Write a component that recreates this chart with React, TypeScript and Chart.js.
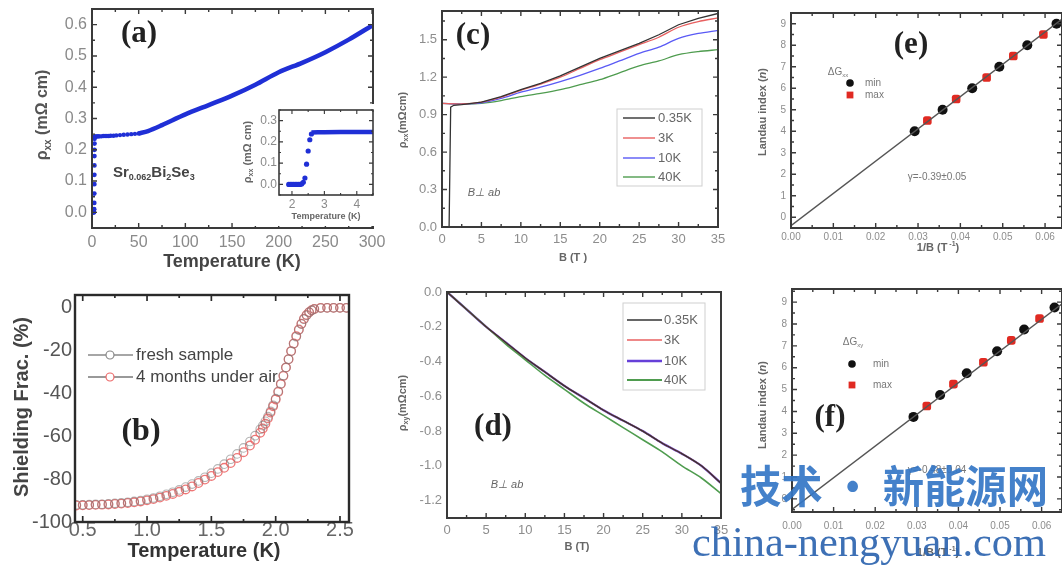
import React, { useEffect, useRef } from 'react';
import { Chart, registerables } from 'chart.js';
Chart.register(...registerables);

const SANS = '"Liberation Sans", Arial, Helvetica, sans-serif';
const SERIF = '"Liberation Serif", "Times New Roman", serif';

// ---------- (a) resistivity vs temperature ----------
const aTransT = [1.9, 2.1, 2.3, 2.4, 2.45, 2.5, 2.52, 2.55, 2.58, 2.6, 2.65, 2.7, 2.8];
const aTransRho = [0.0, 0.0, 0.01, 0.03, 0.06, 0.09, 0.12, 0.15, 0.18, 0.2, 0.22, 0.235, 0.242];
const aLowT = [3, 4, 5, 6, 7, 8, 10, 12, 14, 16, 18, 20, 23, 26, 30, 34, 38, 42, 46, 50];
const aLowRho = [0.242, 0.242, 0.243, 0.243, 0.243, 0.243, 0.243, 0.244, 0.244, 0.244, 0.244, 0.245, 0.245, 0.246, 0.247, 0.248, 0.249, 0.25, 0.251, 0.252];
const aWarmT = [50, 60, 75, 100, 125, 150, 175, 200, 225, 250, 275, 300];
const aWarmRho = [0.252, 0.26, 0.279, 0.313, 0.343, 0.373, 0.408, 0.448, 0.478, 0.512, 0.552, 0.597];
const aXTicks = [0, 50, 100, 150, 200, 250, 300];
const aYTicks = [0, 0.1, 0.2, 0.3, 0.4, 0.5, 0.6];

// inset of (a)
const insT = [1.9, 1.95, 2.0, 2.05, 2.1, 2.15, 2.2, 2.25, 2.3, 2.35, 2.4, 2.45, 2.5, 2.55, 2.6];
const insRho = [0.0, 0.0, 0.0, 0.0, 0.0, 0.0, 0.0, 0.0, 0.002, 0.01, 0.03, 0.095, 0.157, 0.21, 0.237];
const insFlatT = [2.6, 2.8, 3.0, 3.5, 4.0, 4.5];
const insFlatRho = [0.244, 0.245, 0.245, 0.246, 0.246, 0.246];
const insXTicks = [2, 3, 4];
const insYTicks = [0, 0.1, 0.2, 0.3];

// ---------- (b) shielding fraction ----------
const bT = [0.45, 0.5, 0.55, 0.6, 0.65, 0.7, 0.75, 0.8, 0.85, 0.9, 0.95, 1.0, 1.05, 1.1, 1.15, 1.2, 1.25, 1.3, 1.35, 1.4, 1.45, 1.5, 1.55, 1.6, 1.65, 1.7, 1.75, 1.8, 1.84, 1.88, 1.9, 1.92, 1.94, 1.96, 1.98, 2.0, 2.02, 2.04, 2.06, 2.08, 2.1, 2.12, 2.14, 2.16, 2.18, 2.2, 2.22, 2.24, 2.26, 2.28, 2.3, 2.35, 2.4, 2.45, 2.5, 2.55];
const bFresh = [-92, -92, -91.9, -91.8, -91.7, -91.5, -91.3, -91.1, -90.8, -90.4, -90, -89.4, -88.8, -88, -87.1, -86.1, -85, -83.7, -82.3, -80.8, -79.1, -77.2, -75.2, -73, -70.7, -68.2, -65.4, -62.4, -59.7, -56.7, -55, -53, -50.8, -48.3, -45.5, -42.4, -39, -35.4, -31.6, -27.8, -24, -20.3, -16.8, -13.5, -10.4, -7.6, -5.3, -3.5, -2.1, -1.2, -0.6, -0.1, 0, 0, 0, 0];
const bAged = [-92.3, -92.2, -92.1, -92, -91.9, -91.8, -91.6, -91.4, -91.1, -90.8, -90.4, -89.9, -89.3, -88.6, -87.8, -86.9, -85.9, -84.8, -83.4, -81.8, -80.2, -78.5, -76.7, -74.7, -72.5, -70.1, -67.4, -64.3, -61.6, -58.3, -56.3, -54.1, -51.6, -48.9, -46, -42.8, -39.3, -35.6, -31.8, -27.9, -24, -20.2, -16.6, -13.2, -10.1, -7.4, -5.1, -3.3, -2, -1.1, -0.5, 0, 0, 0, 0, 0];
const bXTicks = [0.5, 1.0, 1.5, 2.0, 2.5];
const bYTicks = [0, -20, -40, -60, -80, -100];

// ---------- (c) rho_xx vs B ----------
const cB035 = [0, 0.9, 1.1, 1.5, 2.5, 5, 7.5, 10, 12.5, 15, 17.5, 20, 22.5, 25, 27.5, 30, 32.5, 35];
const c035 = [0, 0, 0.96, 0.975, 0.98, 1.0, 1.045, 1.1, 1.15, 1.21, 1.28, 1.35, 1.41, 1.47, 1.54, 1.62, 1.67, 1.71];
const cB = [0, 2.5, 5, 7.5, 10, 12.5, 15, 17.5, 20, 22.5, 25, 27.5, 30, 32.5, 35];
const c3 = [0.99, 0.985, 1.0, 1.04, 1.095, 1.145, 1.2, 1.27, 1.34, 1.4, 1.46, 1.52, 1.6, 1.645, 1.675];
const c10 = [0.99, 0.985, 0.995, 1.03, 1.08, 1.12, 1.165, 1.215, 1.27, 1.33, 1.39, 1.44, 1.51, 1.55, 1.575];
const c40 = [0.99, 0.985, 0.99, 1.012, 1.045, 1.07, 1.1, 1.14, 1.18, 1.235, 1.29, 1.33, 1.38, 1.405, 1.42];
const cXTicks = [0, 5, 10, 15, 20, 25, 30, 35];
const cYTicks = [0, 0.3, 0.6, 0.9, 1.2, 1.5];

// ---------- (d) rho_xy vs B ----------
const dB = [0, 2.5, 5, 7.5, 10, 12.5, 15, 17.5, 20, 22.5, 25, 27.5, 30, 32.5, 35];
const d035 = [0, -0.1, -0.2, -0.29, -0.38, -0.46, -0.54, -0.61, -0.68, -0.74, -0.8, -0.87, -0.93, -1.0, -1.1];
const d3 = [0, -0.1, -0.2, -0.29, -0.38, -0.46, -0.54, -0.61, -0.68, -0.74, -0.8, -0.87, -0.93, -1.0, -1.1];
const d10 = [0, -0.1, -0.2, -0.29, -0.38, -0.46, -0.54, -0.61, -0.68, -0.74, -0.8, -0.87, -0.93, -1.0, -1.1];
const d40 = [0, -0.1, -0.2, -0.3, -0.39, -0.48, -0.56, -0.64, -0.71, -0.78, -0.85, -0.92, -1.0, -1.07, -1.16];
const dXTicks = [0, 5, 10, 15, 20, 25, 30, 35];
const dYTicks = [0, -0.2, -0.4, -0.6, -0.8, -1.0, -1.2];

// ---------- (e) Landau fan, dGxx ----------
const eMinX = [0.0292, 0.0358, 0.0428, 0.0492, 0.0558, 0.0627];
const eMinN = [4, 5, 6, 7, 8, 9];
const eMaxX = [0.0322, 0.039, 0.0462, 0.0525, 0.0596];
const eMaxN = [4.5, 5.5, 6.5, 7.5, 8.5];
const eFitX = [0, 0.066];
const eFitN = [-0.39, 9.51];

// ---------- (f) Landau fan, dGxy ----------
const fMinX = [0.0292, 0.0356, 0.042, 0.0493, 0.0558, 0.0631];
const fMinN = [3.75, 4.75, 5.75, 6.75, 7.75, 8.75];
const fMaxX = [0.0324, 0.0388, 0.046, 0.0527, 0.0595];
const fMaxN = [4.25, 5.25, 6.25, 7.25, 8.25];
const fFitX = [0, 0.066];
const fFitN = [-0.48, 9.08];
const efXTicks = [0, 0.01, 0.02, 0.03, 0.04, 0.05, 0.06];
const efYTicks = [0, 1, 2, 3, 4, 5, 6, 7, 8, 9];

// ---------- helpers ----------
const zip = (xs: number[], ys: number[]) => xs.map((x, i) => ({ x, y: ys[i] }));

type Seg = { t: string; sub?: boolean; sup?: boolean; italic?: boolean };
type Note = { x: number; y: number; text: string | Seg[]; size: number; weight?: string; family?: string; color?: string; align?: 'left' | 'center' | 'right'; rot?: boolean; italic?: boolean };
type Mk = { x: number; r: number; shape: 'circle' | 'rect'; fill: string; stroke: string; lw: number };
type LegItem = { y: number; x1: number; x2: number; color: string; lw: number; text: string | Seg[]; tx: number; size: number; tcolor?: string; mk?: Mk };
type Leg = { box?: { l: number; t: number; r: number; b: number; color: string }; items: LegItem[] };
type Axis = { min: number; max: number; ticks: number[]; minor: number; fmt: (v: number) => string; size: number; color: string; pad: number };
type Panel = {
  cx: number; cy: number; cw: number; ch: number;
  l: number; t: number; r: number; b: number;
  x: Axis; y: Axis;
  frame: { lw: number; color: string; major: number; minor: number };
  bg?: string;
  datasets: any[];
  notes: Note[];
  legend?: Leg;
};

function drawNote(ctx: CanvasRenderingContext2D, n: Note, ox: number, oy: number) {
  const segs: Seg[] = typeof n.text === 'string' ? [{ t: n.text }] : n.text;
  const fam = n.family || SANS;
  const wt = n.weight || 'normal';
  const fontOf = (s: Seg) => `${s.italic || n.italic ? 'italic ' : ''}${wt} ${s.sub || s.sup ? Math.round(n.size * 0.62) : n.size}px ${fam}`;
  ctx.save();
  ctx.translate(n.x - ox, n.y - oy);
  if (n.rot) ctx.rotate(-Math.PI / 2);
  ctx.fillStyle = n.color || '#333';
  ctx.textBaseline = 'middle';
  ctx.textAlign = 'left';
  let total = 0;
  const ws = segs.map((s) => { ctx.font = fontOf(s); const w = ctx.measureText(s.t).width; total += w; return w; });
  let x = n.align === 'left' ? 0 : n.align === 'right' ? -total : -total / 2;
  segs.forEach((s, i) => {
    ctx.font = fontOf(s);
    const dy = s.sub ? n.size * 0.32 : s.sup ? -n.size * 0.36 : 0;
    ctx.fillText(s.t, x, dy);
    x += ws[i];
  });
  ctx.restore();
}

function drawMarker(ctx: CanvasRenderingContext2D, m: Mk, x: number, y: number) {
  ctx.save();
  ctx.fillStyle = m.fill; ctx.strokeStyle = m.stroke; ctx.lineWidth = m.lw;
  ctx.beginPath();
  if (m.shape === 'circle') ctx.arc(x, y, m.r, 0, Math.PI * 2);
  else ctx.rect(x - m.r, y - m.r, m.r * 2, m.r * 2);
  if (m.fill !== 'none') ctx.fill();
  if (m.lw > 0) ctx.stroke();
  ctx.restore();
}

function makeDeco(p: Panel) {
  return {
    id: 'deco',
    beforeDraw(chart: any) {
      if (!p.bg) return;
      const ctx = chart.ctx;
      ctx.save(); ctx.fillStyle = p.bg; ctx.fillRect(0, 0, chart.width, chart.height); ctx.restore();
    },
    afterDatasetsDraw(chart: any) {
      const ctx: CanvasRenderingContext2D = chart.ctx;
      const { left, right, top, bottom } = chart.chartArea;
      const xs = chart.scales.x, ys = chart.scales.y;
      ctx.save();
      ctx.strokeStyle = p.frame.color;
      ctx.lineWidth = p.frame.lw;
      ctx.strokeRect(left, top, right - left, bottom - top);
      ctx.lineWidth = Math.max(1, p.frame.lw * 0.7);
      const doAxis = (ax: Axis, horiz: boolean) => {
        const step = ax.ticks[1] - ax.ticks[0];
        const ms = step / (ax.minor + 1);
        const lo = Math.min(ax.min, ax.max), hi = Math.max(ax.min, ax.max);
        const i0 = Math.ceil((lo - ax.ticks[0]) / ms - 1e-6);
        const i1 = Math.floor((hi - ax.ticks[0]) / ms + 1e-6);
        for (let i = i0; i <= i1; i++) {
          const v = ax.ticks[0] + i * ms;
          const major = ((i % (ax.minor + 1)) + (ax.minor + 1)) % (ax.minor + 1) === 0;
          const len = major ? p.frame.major : p.frame.minor;
          ctx.beginPath();
          if (horiz) {
            const px = xs.getPixelForValue(v);
            ctx.moveTo(px, bottom); ctx.lineTo(px, bottom - len);
            ctx.moveTo(px, top); ctx.lineTo(px, top + len);
          } else {
            const py = ys.getPixelForValue(v);
            ctx.moveTo(left, py); ctx.lineTo(left + len, py);
            ctx.moveTo(right, py); ctx.lineTo(right - len, py);
          }
          ctx.stroke();
        }
      };
      doAxis(p.x, true);
      doAxis(p.y, false);
      ctx.restore();
    },
    afterDraw(chart: any) {
      const ctx: CanvasRenderingContext2D = chart.ctx;
      const ox = p.cx, oy = p.cy;
      if (p.legend) {
        const L = p.legend;
        if (L.box) {
          ctx.save(); ctx.strokeStyle = L.box.color; ctx.lineWidth = 1;
          ctx.strokeRect(L.box.l - ox, L.box.t - oy, L.box.r - L.box.l, L.box.b - L.box.t);
          ctx.restore();
        }
        L.items.forEach((it) => {
          if (it.lw > 0) {
            ctx.save(); ctx.strokeStyle = it.color; ctx.lineWidth = it.lw;
            ctx.beginPath(); ctx.moveTo(it.x1 - ox, it.y - oy); ctx.lineTo(it.x2 - ox, it.y - oy); ctx.stroke();
            ctx.restore();
          }
          if (it.mk) drawMarker(ctx, it.mk, it.mk.x - ox, it.y - oy);
          if (it.text) drawNote(ctx, { x: it.tx, y: it.y, text: it.text, size: it.size, color: it.tcolor || '#444', align: 'left' }, ox, oy);
        });
      }
      p.notes.forEach((n) => drawNote(ctx, n, ox, oy));
    },
  };
}

function scaleOpts(ax: Axis, horiz: boolean, fixed: number) {
  return {
    type: 'linear',
    min: ax.min,
    max: ax.max,
    grid: { display: false, drawTicks: false },
    border: { display: false },
    ticks: {
      autoSkip: false,
      maxRotation: 0,
      padding: ax.pad,
      color: ax.color,
      font: { family: SANS, size: ax.size },
      callback: (v: any) => ax.fmt(Number(v)),
    },
    afterBuildTicks: (s: any) => { s.ticks = ax.ticks.map((v) => ({ value: v })); },
    afterFit: (s: any) => {
      if (horiz) { s.height = fixed; s.paddingLeft = 0; s.paddingRight = 0; }
      else { s.width = fixed; s.paddingTop = 0; s.paddingBottom = 0; }
    },
  };
}

function PanelChart({ p }: { p: Panel }) {
  const ref = useRef<HTMLCanvasElement | null>(null);
  useEffect(() => {
    if (!ref.current) return;
    const chart = new Chart(ref.current, {
      type: 'scatter',
      data: { datasets: p.datasets },
      options: {
        animation: false,
        responsive: false,
        events: [],
        layout: { autoPadding: false, padding: { left: 0, top: p.t - p.cy, right: p.cx + p.cw - p.r, bottom: 0 } },
        plugins: { legend: { display: false }, tooltip: { enabled: false } },
        scales: {
          x: scaleOpts(p.x, true, p.cy + p.ch - p.b) as any,
          y: scaleOpts(p.y, false, p.l - p.cx) as any,
        },
      } as any,
      plugins: [makeDeco(p) as any],
    });
    return () => chart.destroy();
  }, [p]);
  return <canvas ref={ref} width={p.cw} height={p.ch} style={{ position: 'absolute', left: p.cx, top: p.cy, width: p.cw, height: p.ch }} />;
}

// ---------- panel definitions ----------
const f1 = (v: number) => v.toFixed(1);
const f0 = (v: number) => String(Math.round(v));
const f2 = (v: number) => v.toFixed(2);
const lineDs = (xs: number[], ys: number[], color: string, w: number, extra: any = {}) => ({
  data: zip(xs, ys), showLine: true, borderColor: color, backgroundColor: color, borderWidth: w, pointRadius: 0, tension: 0.3, ...extra,
});

const panelA: Panel = {
  cx: 0, cy: 0, cw: 385, ch: 275, l: 92, t: 9, r: 373, b: 228,
  x: { min: 0, max: 301, ticks: aXTicks, minor: 1, fmt: f0, size: 16, color: '#8a8a8a', pad: 5 },
  y: { min: -0.05, max: 0.65, ticks: aYTicks, minor: 1, fmt: f1, size: 16, color: '#8a8a8a', pad: 5 },
  frame: { lw: 2, color: '#3a3a3a', major: 5, minor: 3 },
  datasets: [
    { data: zip(aTransT, aTransRho), pointRadius: 2.4, pointBackgroundColor: '#1f2fd6', pointBorderWidth: 0, showLine: false },
    { data: zip(aLowT, aLowRho), pointRadius: 2.2, pointBackgroundColor: '#1f2fd6', pointBorderWidth: 0, showLine: false },
    lineDs(aWarmT, aWarmRho, '#1f2fd6', 4.5),
  ],
  notes: [
    { x: 139, y: 34, text: '(a)', size: 31, weight: 'bold', family: SERIF, color: '#222' },
    { x: 43, y: 115, text: [{ t: 'ρ' }, { t: 'xx', sub: true }, { t: ' (mΩ cm)' }], size: 16, weight: 'bold', color: '#555', rot: true },
    { x: 232, y: 262, text: 'Temperature (K)', size: 18, weight: 'bold', color: '#444' },
    { x: 113, y: 173, text: [{ t: 'Sr' }, { t: '0.062', sub: true }, { t: 'Bi' }, { t: '2', sub: true }, { t: 'Se' }, { t: '3', sub: true }], size: 15, weight: 'bold', color: '#444', align: 'left' },
  ],
};

const panelInset: Panel = {
  cx: 238, cy: 104, cw: 140, ch: 122, l: 279, t: 110, r: 373, b: 195,
  x: { min: 1.6, max: 4.5, ticks: insXTicks, minor: 1, fmt: f0, size: 12, color: '#8a8a8a', pad: 2 },
  y: { min: -0.05, max: 0.35, ticks: insYTicks, minor: 1, fmt: f1, size: 12, color: '#8a8a8a', pad: 2 },
  frame: { lw: 1.6, color: '#3a3a3a', major: 4, minor: 2 },
  bg: '#ffffff',
  datasets: [
    { data: zip(insT, insRho), pointRadius: 2.6, pointBackgroundColor: '#1f2fd6', pointBorderWidth: 0, showLine: false },
    lineDs(insFlatT, insFlatRho, '#1f2fd6', 4.5, { tension: 0 }),
  ],
  notes: [
    { x: 248, y: 152, text: [{ t: 'ρ' }, { t: 'xx', sub: true }, { t: ' (mΩ cm)' }], size: 11, weight: 'bold', color: '#666', rot: true },
    { x: 326, y: 217, text: 'Temperature (K)', size: 9, weight: 'bold', color: '#666' },
  ],
};

const panelB: Panel = {
  cx: 0, cy: 285, cw: 365, ch: 281, l: 75, t: 295, r: 349, b: 522,
  x: { min: 0.44, max: 2.57, ticks: bXTicks, minor: 1, fmt: f1, size: 20, color: '#666', pad: -4 },
  y: { min: -100, max: 6, ticks: bYTicks, minor: 1, fmt: f0, size: 20, color: '#555', pad: 3 },
  frame: { lw: 2.4, color: '#2a2a2a', major: 6, minor: 3 },
  datasets: [
    { data: zip(bT, bFresh), pointRadius: 4.3, pointBackgroundColor: 'rgba(255,255,255,0)', pointBorderColor: 'rgba(120,120,120,0.55)', pointBorderWidth: 1.1, showLine: false },
    { data: zip(bT, bAged), pointRadius: 4.3, pointBackgroundColor: 'rgba(255,255,255,0)', pointBorderColor: 'rgba(236,104,104,0.9)', pointBorderWidth: 1.3, showLine: false },
  ],
  notes: [
    { x: 141, y: 432, text: '(b)', size: 32, weight: 'bold', family: SERIF, color: '#222' },
    { x: 22, y: 407, text: 'Shielding Frac. (%)', size: 20, weight: 'bold', color: '#444', rot: true },
    { x: 204, y: 551, text: 'Temperature (K)', size: 20, weight: 'bold', color: '#333' },
  ],
  legend: {
    items: [
      { y: 355, x1: 88, x2: 133, color: '#888', lw: 1.3, text: 'fresh sample', tx: 136, size: 17, mk: { x: 110, r: 4, shape: 'circle', fill: '#fff', stroke: '#888', lw: 1.2 } },
      { y: 377, x1: 88, x2: 133, color: '#777', lw: 1.3, text: '4 months under air', tx: 136, size: 17, mk: { x: 110, r: 4, shape: 'circle', fill: '#fff', stroke: '#ec6868', lw: 1.2 } },
    ],
  },
};

const panelC: Panel = {
  cx: 385, cy: 0, cw: 345, ch: 270, l: 442, t: 11, r: 718, b: 227,
  x: { min: 0, max: 35, ticks: cXTicks, minor: 1, fmt: f0, size: 13, color: '#8d8d8d', pad: 5 },
  y: { min: 0, max: 1.73, ticks: cYTicks, minor: 1, fmt: f1, size: 13, color: '#8d8d8d', pad: 5 },
  frame: { lw: 2, color: '#3a3a3a', major: 5, minor: 3 },
  datasets: [
    lineDs(cB035, c035, '#333333', 1.3, { tension: 0 }),
    lineDs(cB, c3, '#e86060', 1.3),
    lineDs(cB, c10, '#5a5af5', 1.3),
    lineDs(cB, c40, '#4f9c4f', 1.3),
  ],
  notes: [
    { x: 473, y: 36, text: '(c)', size: 31, weight: 'bold', family: SERIF, color: '#222' },
    { x: 403, y: 120, text: [{ t: 'ρ' }, { t: 'xx', sub: true }, { t: '(mΩcm)' }], size: 11, weight: 'bold', color: '#666', rot: true },
    { x: 573, y: 258, text: 'B (T )', size: 11, weight: 'bold', color: '#666' },
    { x: 484, y: 193, text: 'B⊥ ab', size: 11, italic: true, color: '#666' },
  ],
  legend: {
    box: { l: 617, t: 109, r: 702, b: 186, color: '#cfcfcf' },
    items: [
      { y: 118, x1: 623, x2: 655, color: '#333', lw: 1.4, text: '0.35K', tx: 658, size: 13, tcolor: '#666' },
      { y: 138, x1: 623, x2: 655, color: '#e86060', lw: 1.4, text: '3K', tx: 658, size: 13, tcolor: '#666' },
      { y: 158, x1: 623, x2: 655, color: '#5a5af5', lw: 1.4, text: '10K', tx: 658, size: 13, tcolor: '#666' },
      { y: 177, x1: 623, x2: 655, color: '#4f9c4f', lw: 1.4, text: '40K', tx: 658, size: 13, tcolor: '#666' },
    ],
  },
};

const panelD: Panel = {
  cx: 385, cy: 280, cw: 350, ch: 286, l: 447, t: 292, r: 721, b: 518,
  x: { min: 0, max: 35, ticks: dXTicks, minor: 1, fmt: f0, size: 13, color: '#8d8d8d', pad: 5 },
  y: { min: -1.3, max: 0, ticks: dYTicks, minor: 1, fmt: f1, size: 13, color: '#8d8d8d', pad: 5 },
  frame: { lw: 2, color: '#3a3a3a', major: 5, minor: 3 },
  datasets: [
    lineDs(dB, d035, '#333333', 1.3),
    lineDs(dB, d3, '#e86060', 1.3),
    lineDs(dB, d40, '#4f9c4f', 1.6),
    lineDs(dB, d10, '#6640d8', 2.2),
  ],
  notes: [
    { x: 493, y: 427, text: '(d)', size: 31, weight: 'bold', family: SERIF, color: '#222' },
    { x: 403, y: 403, text: [{ t: 'ρ' }, { t: 'xy', sub: true }, { t: '(mΩcm)' }], size: 11, weight: 'bold', color: '#666', rot: true },
    { x: 577, y: 547, text: 'B (T)', size: 11, weight: 'bold', color: '#666' },
    { x: 507, y: 485, text: 'B⊥ ab', size: 11, italic: true, color: '#666' },
  ],
  legend: {
    box: { l: 623, t: 303, r: 705, b: 390, color: '#cfcfcf' },
    items: [
      { y: 320, x1: 627, x2: 662, color: '#333', lw: 1.6, text: '0.35K', tx: 664, size: 13, tcolor: '#666' },
      { y: 340, x1: 627, x2: 662, color: '#e86060', lw: 1.6, text: '3K', tx: 664, size: 13, tcolor: '#666' },
      { y: 361, x1: 627, x2: 662, color: '#6640d8', lw: 2.4, text: '10K', tx: 664, size: 13, tcolor: '#666' },
      { y: 380, x1: 627, x2: 662, color: '#4f9c4f', lw: 1.8, text: '40K', tx: 664, size: 13, tcolor: '#666' },
    ],
  },
};

const fanDs = (minX: number[], minN: number[], maxX: number[], maxN: number[], fitX: number[], fitN: number[]) => [
  lineDs(fitX, fitN, '#555', 1.4, { tension: 0, clip: 0 }),
  { data: zip(minX, minN), pointRadius: 5, pointStyle: 'circle', pointBackgroundColor: '#111', pointBorderColor: '#111', pointBorderWidth: 0, showLine: false },
  { data: zip(maxX, maxN), pointRadius: 5, pointStyle: 'rectRounded', pointBackgroundColor: '#e02a22', pointBorderColor: '#e02a22', pointBorderWidth: 0, showLine: false },
];

const panelE: Panel = {
  cx: 730, cy: 0, cw: 332, ch: 270, l: 791, t: 13, r: 1062, b: 228,
  x: { min: 0, max: 0.064, ticks: efXTicks, minor: 1, fmt: f2, size: 10, color: '#8d8d8d', pad: 3 },
  y: { min: -0.5, max: 9.5, ticks: efYTicks, minor: 1, fmt: f0, size: 10, color: '#8d8d8d', pad: 5 },
  frame: { lw: 2, color: '#3a3a3a', major: 5, minor: 3 },
  datasets: fanDs(eMinX, eMinN, eMaxX, eMaxN, eFitX, eFitN),
  notes: [
    { x: 911, y: 45, text: '(e)', size: 31, weight: 'bold', family: SERIF, color: '#222' },
    { x: 763, y: 112, text: [{ t: 'Landau index (' }, { t: 'n', italic: true }, { t: ')' }], size: 11, weight: 'bold', color: '#666', rot: true },
    { x: 938, y: 248, text: [{ t: '1/B (T' }, { t: ' -1', sup: true }, { t: ')' }], size: 11, weight: 'bold', color: '#666' },
    { x: 838, y: 72, text: [{ t: 'ΔG' }, { t: 'xx', sub: true }], size: 10, color: '#777' },
    { x: 865, y: 83, text: 'min', size: 10, color: '#777', align: 'left' },
    { x: 865, y: 95, text: 'max', size: 10, color: '#777', align: 'left' },
    { x: 937, y: 177, text: 'γ=-0.39±0.05', size: 10, color: '#777' },
  ],
  legend: {
    items: [
      { y: 83, x1: 850, x2: 850, color: '#111', lw: 0, text: '', tx: 865, size: 10, mk: { x: 850, r: 3.8, shape: 'circle', fill: '#111', stroke: '#111', lw: 0 } },
      { y: 95, x1: 850, x2: 850, color: '#e02a22', lw: 0, text: '', tx: 865, size: 10, mk: { x: 850, r: 3.4, shape: 'rect', fill: '#e02a22', stroke: '#e02a22', lw: 0 } },
    ],
  },
};

const panelF: Panel = {
  cx: 730, cy: 278, cw: 332, ch: 288, l: 792, t: 289, r: 1062, b: 512,
  x: { min: 0, max: 0.0649, ticks: efXTicks, minor: 1, fmt: f2, size: 10, color: '#8d8d8d', pad: 8 },
  y: { min: -0.6, max: 9.6, ticks: efYTicks, minor: 1, fmt: f0, size: 10, color: '#8d8d8d', pad: 5 },
  frame: { lw: 2, color: '#3a3a3a', major: 5, minor: 3 },
  datasets: fanDs(fMinX, fMinN, fMaxX, fMaxN, fFitX, fFitN),
  notes: [
    { x: 830, y: 418, text: '(f)', size: 31, weight: 'bold', family: SERIF, color: '#222' },
    { x: 763, y: 405, text: [{ t: 'Landau index (' }, { t: 'n', italic: true }, { t: ')' }], size: 11, weight: 'bold', color: '#666', rot: true },
    { x: 938, y: 553, text: [{ t: '1/B (T' }, { t: ' -1', sup: true }, { t: ')' }], size: 11, weight: 'bold', color: '#666' },
    { x: 853, y: 342, text: [{ t: 'ΔG' }, { t: 'xy', sub: true }], size: 10, color: '#777' },
    { x: 873, y: 364, text: 'min', size: 10, color: '#777', align: 'left' },
    { x: 873, y: 385, text: 'max', size: 10, color: '#777', align: 'left' },
    { x: 937, y: 470, text: 'γ=-0.48±0.04', size: 10, color: '#777' },
  ],
  legend: {
    items: [
      { y: 364, x1: 852, x2: 852, color: '#111', lw: 0, text: '', tx: 873, size: 10, mk: { x: 852, r: 3.8, shape: 'circle', fill: '#111', stroke: '#111', lw: 0 } },
      { y: 385, x1: 852, x2: 852, color: '#e02a22', lw: 0, text: '', tx: 873, size: 10, mk: { x: 852, r: 3.4, shape: 'rect', fill: '#e02a22', stroke: '#e02a22', lw: 0 } },
    ],
  },
};

const PANELS: Panel[] = [panelA, panelInset, panelB, panelC, panelD, panelE, panelF];

export default function App() {
  return (
    <div style={{ position: 'absolute', left: 0, top: 0, width: 1062, height: 566, background: '#fff', overflow: 'hidden' }}>
      {PANELS.map((p, i) => <PanelChart key={i} p={p} />)}
      <svg width={1062} height={566} style={{ position: 'absolute', left: 0, top: 0, pointerEvents: 'none' }}>
        <text x={740} y={503} textLength={308} lengthAdjust="spacingAndGlyphs" fontFamily='"Noto Sans CJK SC", sans-serif' fontWeight={700} fontSize={44} fill="rgba(52,118,198,0.92)">技术 · 新能源网</text>
        <text x={692} y={556} textLength={354} lengthAdjust="spacingAndGlyphs" fontFamily='"Liberation Serif", "Times New Roman", serif' fontSize={42} fill="rgba(45,100,175,0.92)">china-nengyuan.com</text>
      </svg>
    </div>
  );
}
